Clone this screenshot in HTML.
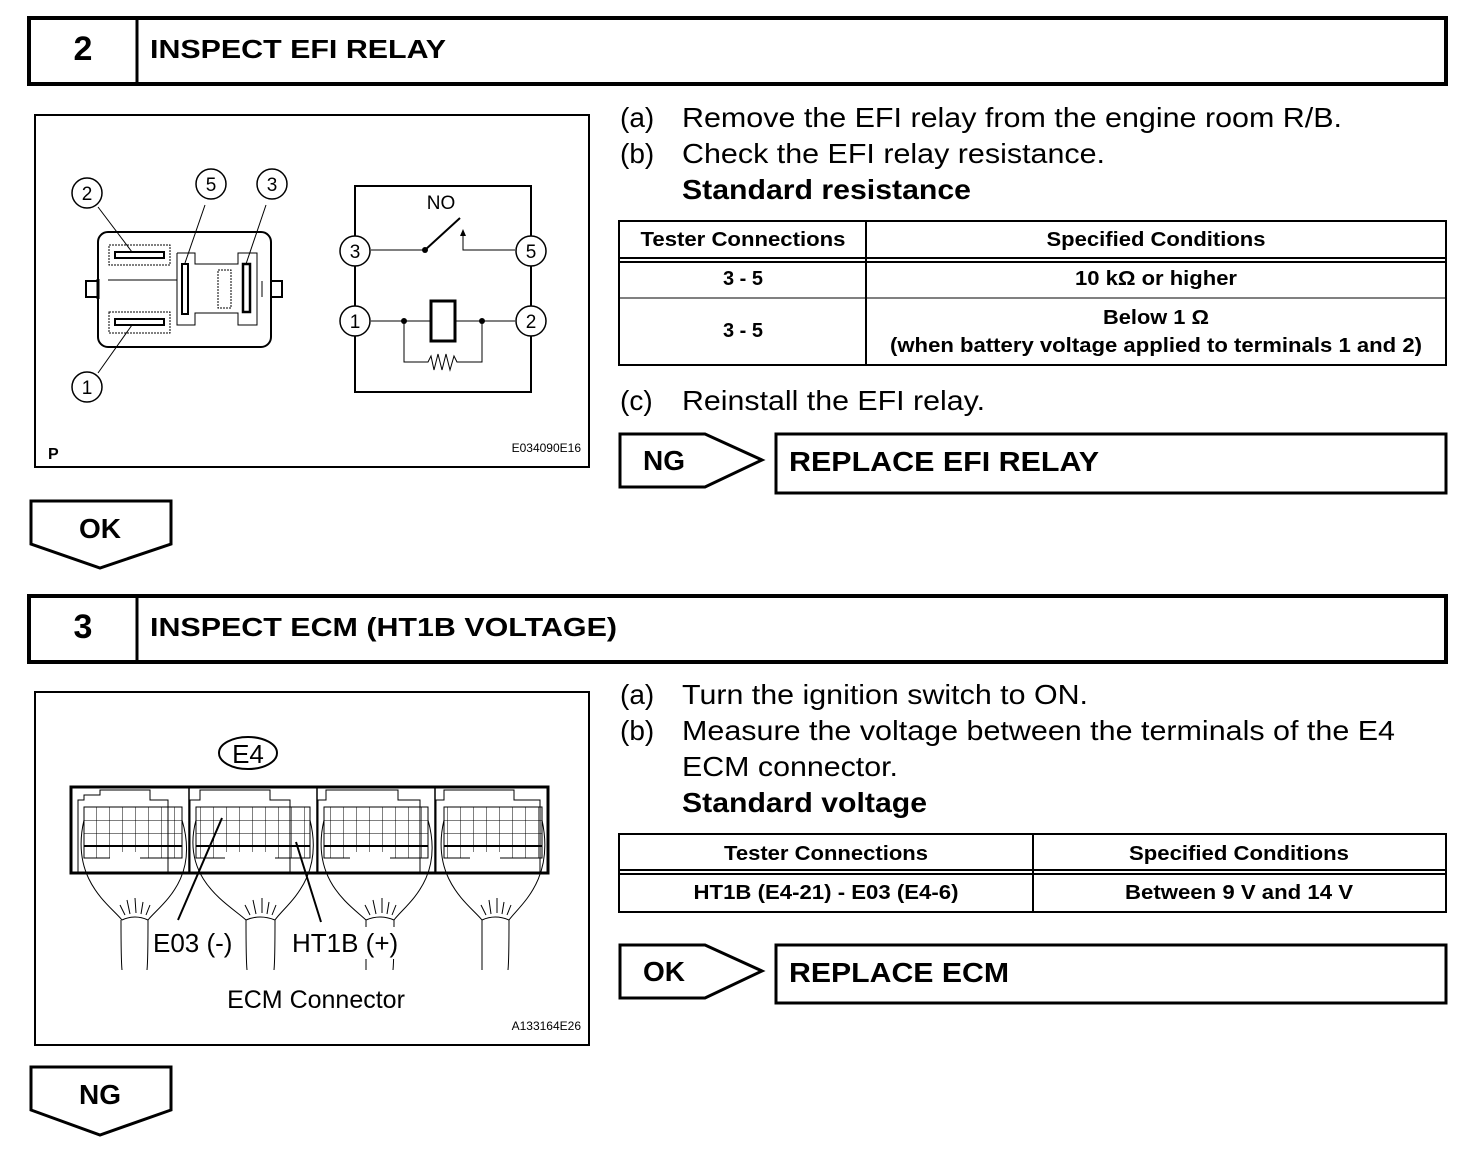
<!DOCTYPE html>
<html><head><meta charset="utf-8"><style>
html,body{margin:0;padding:0;background:#fff;}
svg{display:block;}
text{font-family:"Liberation Sans",Arial,sans-serif;fill:#000;}
.b{font-weight:bold;}
</style></head><body>
<svg width="1472" height="1154" viewBox="0 0 1472 1154" xmlns="http://www.w3.org/2000/svg">
<g fill="none" stroke="#000">
<rect x="29" y="18" width="1417" height="66" stroke-width="4"/>
<line x1="137" y1="18" x2="137" y2="84" stroke-width="3"/>
<rect x="29" y="596" width="1417" height="66" stroke-width="4"/>
<line x1="137" y1="596" x2="137" y2="662" stroke-width="3"/>
<rect x="35" y="115" width="554" height="352" stroke-width="2"/>
<rect x="35" y="692" width="554" height="353" stroke-width="2"/>
<polygon points="31,501 171,501 171,544 100,568 31,544" stroke-width="3"/>
<polygon points="31,1067 171,1067 171,1110 100,1135 31,1110" stroke-width="3"/>
<polygon points="620,434 705,434 762,460 705,487 620,487" stroke-width="3"/>
<rect x="776" y="434" width="670" height="59" stroke-width="3"/>
<polygon points="620,945 705,945 762,971 705,998 620,998" stroke-width="3"/>
<rect x="776" y="945" width="670" height="58" stroke-width="3"/>
<rect x="619" y="221" width="827" height="144" stroke-width="2"/>
<line x1="619" y1="258" x2="1446" y2="258" stroke-width="2"/>
<line x1="619" y1="262" x2="1446" y2="262" stroke-width="2"/>
<line x1="619" y1="298" x2="1446" y2="298" stroke-width="1"/>
<line x1="866" y1="221" x2="866" y2="365" stroke-width="2"/>
<rect x="619" y="834" width="827" height="78" stroke-width="2"/>
<line x1="619" y1="870" x2="1446" y2="870" stroke-width="2"/>
<line x1="619" y1="874" x2="1446" y2="874" stroke-width="2"/>
<line x1="1033" y1="834" x2="1033" y2="912" stroke-width="2"/>

<rect x="98" y="232" width="173" height="115" rx="10" stroke-width="2"/>
<rect x="86" y="281" width="12" height="16" stroke-width="2"/>
<rect x="271" y="281" width="11" height="16" stroke-width="2"/>
<line x1="98" y1="279" x2="98" y2="299" stroke-width="3"/>
<line x1="262" y1="281" x2="262" y2="297" stroke-width="1"/>
<rect x="109" y="245" width="61" height="20" stroke-width="1" stroke-dasharray="2,1"/>
<rect x="115" y="252" width="49" height="6" stroke-width="2"/>
<rect x="109" y="312" width="61" height="21" stroke-width="1" stroke-dasharray="2,1"/>
<rect x="115" y="319" width="49" height="6" stroke-width="2"/>
<polyline points="177,253 195,253 195,264 238,264 238,253 257,253 257,325 238,325 238,313 195,313 195,325 177,325 177,253" stroke-width="1"/>
<rect x="182" y="264" width="6" height="50" stroke-width="2"/>
<rect x="243" y="264" width="7" height="48" stroke-width="2.5"/>
<rect x="218" y="270" width="13" height="38" stroke-width="1" stroke-dasharray="2,1"/>
<line x1="108" y1="280" x2="177" y2="280" stroke-width="1"/>
<line x1="98" y1="207" x2="132" y2="252" stroke-width="1"/>
<line x1="205" y1="205" x2="185" y2="263" stroke-width="1"/>
<line x1="266" y1="205" x2="246" y2="264" stroke-width="1"/>
<line x1="98" y1="373" x2="132" y2="325" stroke-width="1"/>
<circle cx="87" cy="193" r="15" stroke-width="1.5"/>
<circle cx="211" cy="184" r="15" stroke-width="1.5"/>
<circle cx="272" cy="184" r="15" stroke-width="1.5"/>
<circle cx="87" cy="387" r="15" stroke-width="1.5"/>

<polyline points="355,236 355,186 531,186 531,236" stroke-width="2"/>
<line x1="355" y1="266" x2="355" y2="306" stroke-width="2"/>
<line x1="531" y1="266" x2="531" y2="306" stroke-width="2"/>
<polyline points="355,336 355,392 531,392 531,336" stroke-width="2"/>
<line x1="371" y1="250" x2="425" y2="250" stroke-width="1"/>
<line x1="425" y1="250" x2="460" y2="218" stroke-width="2"/>
<polyline points="463,236 463,250 515,250" stroke-width="1"/>
<line x1="371" y1="321" x2="431" y2="321" stroke-width="1"/>
<line x1="455" y1="321" x2="515" y2="321" stroke-width="1"/>
<rect x="431" y="301" width="24" height="40" stroke-width="3"/>
<polyline points="404,321 404,362 428,362 431,356 434,370 438,354 442,370 446,354 450,370 454,356 457,362 482,362 482,321" stroke-width="1"/>
<circle cx="355" cy="251" r="15" stroke-width="1.5" fill="#fff"/>
<circle cx="531" cy="251" r="15" stroke-width="1.5" fill="#fff"/>
<circle cx="355" cy="321" r="15" stroke-width="1.5" fill="#fff"/>
<circle cx="531" cy="321" r="15" stroke-width="1.5" fill="#fff"/>
</g>
<circle cx="425" cy="250" r="3"/>
<circle cx="404" cy="321" r="3"/>
<circle cx="482" cy="321" r="3"/>
<polygon points="460,236 463,229 466,236"/>

<g font-size="19" text-anchor="middle">
<text x="87" y="200">2</text><text x="211" y="191">5</text><text x="272" y="191">3</text><text x="87" y="394">1</text>
<text x="355" y="258">3</text><text x="531" y="258">5</text><text x="355" y="328">1</text><text x="531" y="328">2</text>
<text x="441" y="209">NO</text>
</g>
<text x="48" y="459" font-size="16" class="b">P</text>
<text x="581" y="452" font-size="12" text-anchor="end">E034090E16</text>

<g fill="none" stroke="#000">
<ellipse cx="248" cy="753" rx="29" ry="16" stroke-width="2"/>
<rect x="71" y="787" width="477" height="86" stroke-width="3"/>
<g stroke-width="1">
<path d="M78,873 L78,800 L84,800 L84,795 L100,795 L100,790 L150,790 L150,800 L168,800 L168,873"/>
<path d="M190,873 L190,800 L200,800 L200,790 L270,790 L270,800 L290,800 L290,873"/>
<path d="M318,873 L318,800 L326,800 L326,790 L398,790 L398,800 L420,800 L420,873"/>
<path d="M436,873 L436,800 L444,800 L444,790 L514,790 L514,800 L540,800 L540,873"/>
</g>
<line x1="189" y1="787" x2="189" y2="873" stroke-width="1.5"/>
<line x1="317" y1="787" x2="317" y2="873" stroke-width="1.5"/>
<line x1="435" y1="787" x2="435" y2="873" stroke-width="1.5"/>
</g>
<defs>
<pattern id="g" x="84" y="807" width="13" height="13" patternUnits="userSpaceOnUse">
<path d="M0,0 H13 V13" fill="none" stroke="#000" stroke-width="1"/>
</pattern>
</defs>
<g stroke="#000" stroke-width="1" fill="url(#g)">
<rect x="84" y="807" width="98" height="51"/>
<rect x="196" y="807" width="114" height="51"/>
<rect x="324" y="807" width="104" height="51"/>
<rect x="444" y="807" width="98" height="51"/>
</g>
<g stroke="#000" stroke-width="2">
<line x1="84" y1="846" x2="182" y2="846"/><line x1="196" y1="846" x2="310" y2="846"/>
<line x1="324" y1="846" x2="428" y2="846"/><line x1="444" y1="846" x2="542" y2="846"/>
</g>
<g fill="#fff">
<rect x="110" y="852" width="30" height="19"/><rect x="225" y="852" width="50" height="19"/>
<rect x="350" y="852" width="40" height="19"/><rect x="470" y="852" width="30" height="19"/>
</g>
<g fill="none" stroke="#000" stroke-width="1">
<path d="M84,820 C70,880 110,905 122,920 M182,820 C200,880 160,905 148,920"/>
<path d="M196,820 C180,880 230,905 246,920 M310,820 C325,880 285,905 275,920"/>
<path d="M324,820 C310,880 350,905 366,920 M428,820 C445,880 405,905 394,920"/>
<path d="M444,820 C430,880 470,905 482,920 M542,820 C555,880 520,905 509,920"/>
<path d="M121,920 C121,930 121,960 122,970 M148,920 C148,940 148,960 147,970"/>
<path d="M246,920 C246,940 246,960 247,970 M275,920 C275,940 275,960 274,970"/>
<path d="M366,920 C366,940 366,960 366,970 M394,920 C394,940 394,960 393,970"/>
<path d="M482,920 C482,940 482,960 482,970 M509,920 C509,940 509,960 508,970"/>
<path d="M122,920 Q135,914 148,920 M246,920 Q260,914 275,920 M366,920 Q380,914 394,920 M482,920 Q495,914 509,920"/>
<path d="M125,915 L120,905 M130,914 L127,900 M136,913 L135,898 M141,914 L143,902 M146,915 L150,905"/>
<path d="M250,915 L245,905 M256,914 L253,900 M262,913 L262,898 M267,914 L269,902 M272,915 L276,905"/>
<path d="M370,915 L365,905 M376,914 L373,900 M382,913 L382,898 M387,914 L389,902 M392,915 L396,905"/>
<path d="M486,915 L481,905 M491,914 L489,900 M497,913 L497,898 M502,914 L504,902 M507,915 L511,905"/>
</g>
<g stroke="#000" stroke-width="2">
<line x1="178" y1="920" x2="222" y2="818"/>
<line x1="321" y1="922" x2="296" y2="842"/>
</g>
<rect x="150" y="927" width="90" height="32" fill="#fff"/>
<rect x="288" y="927" width="120" height="32" fill="#fff"/>
<text x="248" y="763" font-size="26" text-anchor="middle">E4</text>
<text x="153" y="952" font-size="26">E03 (-)</text>
<text x="292" y="952" font-size="26">HT1B (+)</text>
<text x="316" y="1008" font-size="25" text-anchor="middle">ECM Connector</text>
<text x="581" y="1030" font-size="12" text-anchor="end">A133164E26</text>

<text x="83" y="60" font-size="34" class="b" text-anchor="middle">2</text>
<text x="150" y="58" font-size="26" class="b" textLength="296" lengthAdjust="spacingAndGlyphs">INSPECT EFI RELAY</text>
<text x="83" y="638" font-size="34" class="b" text-anchor="middle">3</text>
<text x="150" y="636" font-size="26" class="b" textLength="467" lengthAdjust="spacingAndGlyphs">INSPECT ECM (HT1B VOLTAGE)</text>

<text x="100" y="538" font-size="28" class="b" text-anchor="middle">OK</text>
<text x="100" y="1104" font-size="28" class="b" text-anchor="middle">NG</text>
<text x="643" y="470" font-size="28" class="b">NG</text>
<text x="643" y="981" font-size="28" class="b">OK</text>
<text x="789" y="471" font-size="28" class="b" textLength="310" lengthAdjust="spacingAndGlyphs">REPLACE EFI RELAY</text>
<text x="789" y="982" font-size="28" class="b" textLength="220" lengthAdjust="spacingAndGlyphs">REPLACE ECM</text>

<g font-size="28">
<text x="620" y="127">(a)</text><text x="682" y="127" textLength="660" lengthAdjust="spacingAndGlyphs">Remove the EFI relay from the engine room R/B.</text>
<text x="620" y="163">(b)</text><text x="682" y="163" textLength="423" lengthAdjust="spacingAndGlyphs">Check the EFI relay resistance.</text>
<text x="682" y="199" class="b" textLength="289" lengthAdjust="spacingAndGlyphs">Standard resistance</text>
<text x="620" y="410">(c)</text><text x="682" y="410" textLength="303" lengthAdjust="spacingAndGlyphs">Reinstall the EFI relay.</text>
<text x="620" y="704">(a)</text><text x="682" y="704" textLength="406" lengthAdjust="spacingAndGlyphs">Turn the ignition switch to ON.</text>
<text x="620" y="740">(b)</text><text x="682" y="740" textLength="713" lengthAdjust="spacingAndGlyphs">Measure the voltage between the terminals of the E4</text>
<text x="682" y="776" textLength="216" lengthAdjust="spacingAndGlyphs">ECM connector.</text>
<text x="682" y="812" class="b" textLength="245" lengthAdjust="spacingAndGlyphs">Standard voltage</text>
</g>

<g font-size="20" class="b" text-anchor="middle">
<text x="743" y="246" textLength="205" lengthAdjust="spacingAndGlyphs">Tester Connections</text>
<text x="1156" y="246" textLength="219" lengthAdjust="spacingAndGlyphs">Specified Conditions</text>
<text x="743" y="285">3 - 5</text>
<text x="1156" y="285" textLength="162" lengthAdjust="spacingAndGlyphs">10 kΩ or higher</text>
<text x="743" y="337">3 - 5</text>
<text x="1156" y="324" textLength="106" lengthAdjust="spacingAndGlyphs">Below 1 Ω</text>
<text x="1156" y="352" textLength="532" lengthAdjust="spacingAndGlyphs">(when battery voltage applied to terminals 1 and 2)</text>
<text x="826" y="860" textLength="204" lengthAdjust="spacingAndGlyphs">Tester Connections</text>
<text x="1239" y="860" textLength="220" lengthAdjust="spacingAndGlyphs">Specified Conditions</text>
<text x="826" y="899" textLength="265" lengthAdjust="spacingAndGlyphs">HT1B (E4-21) - E03 (E4-6)</text>
<text x="1239" y="899" textLength="228" lengthAdjust="spacingAndGlyphs">Between 9 V and 14 V</text>
</g>
</svg>
</body></html>
